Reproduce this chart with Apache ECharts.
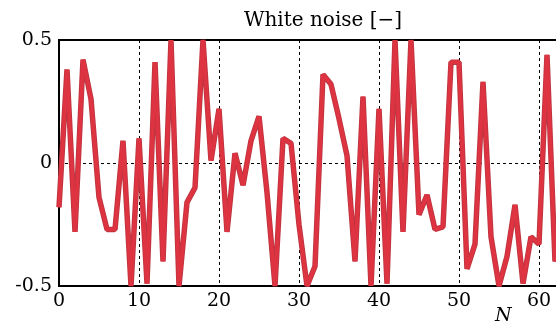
<!DOCTYPE html>
<html>
<head>
<meta charset="utf-8">
<script src="https://cdn.jsdelivr.net/npm/echarts@6/dist/echarts.min.js"></script>
<style>
  html, body { margin: 0; padding: 0; background: #fff; }
  #chart { width: 556px; height: 331px; }
</style>
</head>
<body>
<div id="chart"></div>
<script>
// white noise samples, N = 0 .. 63
const noise = [
  -0.18, 0.38, -0.28, 0.42, 0.26, -0.14, -0.27, -0.27, 0.09, -0.5,
  0.1, -0.49, 0.41, -0.4, 0.5, -0.5, -0.16, -0.1, 0.5, 0.01,
  0.22, -0.28, 0.04, -0.09, 0.09, 0.19, -0.12, -0.5, 0.1, 0.08,
  -0.25, -0.5, -0.42, 0.36, 0.32, 0.18, 0.03, -0.4, 0.27, -0.5,
  0.22, -0.49, 0.5, -0.28, 0.5, -0.21, -0.13, -0.27, -0.26, 0.41,
  0.41, -0.43, -0.33, 0.33, -0.3, -0.5, -0.38, -0.17, -0.49, -0.3,
  -0.33, 0.44, -0.4, -0.2
];
const xTicks = [0, 10, 20, 30, 40, 50, 60];
const yTicks = [-0.5, 0, 0.5];

const points = noise.map((v, i) => [i, v]);
const serif = "'DejaVu Serif', 'Liberation Serif', serif";

const chart = echarts.init(document.getElementById("chart"), null, { renderer: "canvas" });
chart.setOption({
  animation: false,
  title: {
    text: "White noise [\u2212]",
    left: 318,
    top: 6,
    textAlign: "center",
    textStyle: { fontFamily: serif, fontWeight: "normal", fontSize: 20, color: "#000" },
  },
  // axis label "N" sits below the axis, right of centre
  graphic: [
    {
      type: "text",
      left: 495,
      top: 307,
      style: { text: "N", font: "italic 19px " + serif, fill: "#000" },
    },
  ],
  grid: {
    left: 59,
    top: 40,
    width: 512,
    height: 246,
    outerBoundsMode: "none",
    containLabel: false,
    show: true,
    borderColor: "#000",
    borderWidth: 2,
    backgroundColor: "#fff",
  },
  xAxis: {
    type: "value",
    min: 0,
    max: 64,
    interval: 10,
    axisLine: { show: false },
    axisTick: { show: false },
    axisLabel: {
      fontFamily: serif, fontSize: 19, color: "#000", margin: 6,
      formatter: (v) => (xTicks.includes(v) ? String(v) : ""),
    },
    splitLine: { show: true, lineStyle: { color: "#000", width: 1, type: [3, 3] } },
  },
  yAxis: {
    type: "value",
    min: -0.5,
    max: 0.5,
    interval: 0.5,
    axisLine: { show: false },
    axisTick: { show: false },
    axisLabel: {
      fontFamily: serif, fontSize: 19, color: "#000", margin: 7,
      formatter: (v) => (yTicks.includes(v) ? String(v) : ""),
    },
    splitLine: { show: true, lineStyle: { color: "#000", width: 1, type: [3, 3] } },
  },
  series: [
    {
      type: "line",
      data: points,
      symbol: "none",
      lineStyle: { color: "#bd3540", width: 5.5, join: "bevel" },
      z: 2,
    },
    {
      type: "line",
      data: points,
      symbol: "none",
      lineStyle: { color: "#de3340", width: 3.8, join: "bevel" },
      z: 3,
    },
  ],
});
</script>
</body>
</html>
